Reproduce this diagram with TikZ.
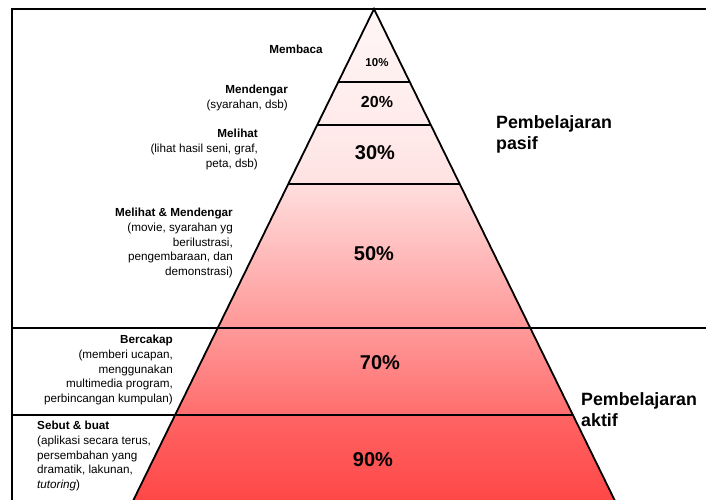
\documentclass[tikz,border=0pt]{standalone}
\usepackage{fontspec}
\setmainfont{Liberation Sans}
\definecolor{b1t}{HTML}{FFF6F6}\definecolor{b1b}{HTML}{FFEFEF}
\definecolor{b2t}{HTML}{FFEFEF}\definecolor{b2b}{HTML}{FFEAEA}
\definecolor{b3t}{HTML}{FFEBEB}\definecolor{b3b}{HTML}{FFE2E2}
\definecolor{b4t}{HTML}{FFDEDE}\definecolor{b4b}{HTML}{FF9696}
\definecolor{b5t}{HTML}{FF9A9A}\definecolor{b5b}{HTML}{FF6D6D}
\definecolor{b6t}{HTML}{FF6464}\definecolor{b6b}{HTML}{FF4646}
\begin{document}
\begin{tikzpicture}[x=1pt,y=-1pt,line join=miter,
  frame/.style={line width=1.8pt},
  band/.style={line width=1.6pt},
  desc/.style={inner sep=0pt,font=\fontsize{11.7}{14.7}\selectfont,align=right},
  pct/.style={inner sep=0pt,font=\bfseries\fontsize{20}{24}\selectfont},
  side/.style={inner sep=0pt,anchor=north west,align=left,font=\bfseries\fontsize{17.8}{21.5}\selectfont}]
\useasboundingbox (0,0) rectangle (706,500);
\coordinate (A) at (374,9);
\coordinate (L1) at (338.2,82);  \coordinate (R1) at (409.8,82);
\coordinate (L2) at (317.2,125); \coordinate (R2) at (430.8,125);
\coordinate (L3) at (288.3,184); \coordinate (R3) at (459.7,184);
\coordinate (L4) at (217.7,328); \coordinate (R4) at (530.3,328);
\coordinate (L5) at (175,415);   \coordinate (R5) at (573,415);
\coordinate (L6) at (131,505);   \coordinate (R6) at (617,505);
\coordinate (TL) at (12,9); \coordinate (TR) at (708,9); \coordinate (BL) at (12,505);
\coordinate (ML) at (12,328); \coordinate (MR) at (708,328);
\coordinate (LL) at (12,415);
% fills
\shade[top color=b1t,bottom color=b1b] (A) -- (R1) -- (L1) -- cycle;
\shade[top color=b2t,bottom color=b2b] (L1) -- (R1) -- (R2) -- (L2) -- cycle;
\shade[top color=b3t,bottom color=b3b] (L2) -- (R2) -- (R3) -- (L3) -- cycle;
\shade[top color=b4t,bottom color=b4b] (L3) -- (R3) -- (R4) -- (L4) -- cycle;
\shade[top color=b5t,bottom color=b5b] (L4) -- (R4) -- (R5) -- (L5) -- cycle;
\shade[top color=b6t,bottom color=b6b] (L5) -- (R5) -- (R6) -- (L6) -- cycle;
% lines
\draw[frame] (TR) -- (TL) -- (BL);
\draw[frame] (ML) -- (MR);
\draw[band] (LL) -- (R5);
\draw[band] (L1) -- (R1);
\draw[band] (L2) -- (R2);
\draw[band] (L3) -- (R3);
\draw[frame] (L6) -- (A) -- (R6);
% percentages
\node[inner sep=0pt,font=\bfseries\fontsize{11.5}{14}\selectfont] (p10) at (377,63) {10\%};
\node[inner sep=0pt,font=\bfseries\fontsize{16}{19}\selectfont] (p20) at (377,102) {20\%};
\node[pct] (p30) at (375,153) {30\%};
\node[pct] (p50) at (374,254) {50\%};
\node[pct] (p70) at (380,363) {70\%};
\node[pct] (p90) at (373,460) {90\%};
% descriptions
\node[desc,anchor=base east] (membaca) at (323,53.5) {\textbf{Membaca}};
\node[desc,anchor=north east] (mendengar) at (288,85) {\textbf{Mendengar}\\(syarahan, dsb)};
\node[desc,anchor=north east] (melihat) at (258,129) {\textbf{Melihat}\\(lihat hasil seni, graf,\\peta, dsb)};
\node[desc,anchor=north east] (mm) at (233,208) {\textbf{Melihat \& Mendengar}\\(movie, syarahan yg\\berilustrasi,\\pengembaraan, dan\\demonstrasi)};
\node[desc,anchor=north east] (bercakap) at (173,335) {\textbf{Bercakap}\\(memberi ucapan,\\menggunakan\\multimedia program,\\perbincangan kumpulan)};
\node[desc,anchor=north west,align=left] (sebut) at (37,421) {\textbf{Sebut \& buat}\\(aplikasi secara terus,\\persembahan yang\\dramatik, lakunan,\\\textit{tutoring})};
% side labels
\node[side] (pasif) at (496,115) {Pembelajaran\\pasif};
\node[side] (aktif) at (581,392) {Pembelajaran\\aktif};
\end{tikzpicture}
\end{document}
